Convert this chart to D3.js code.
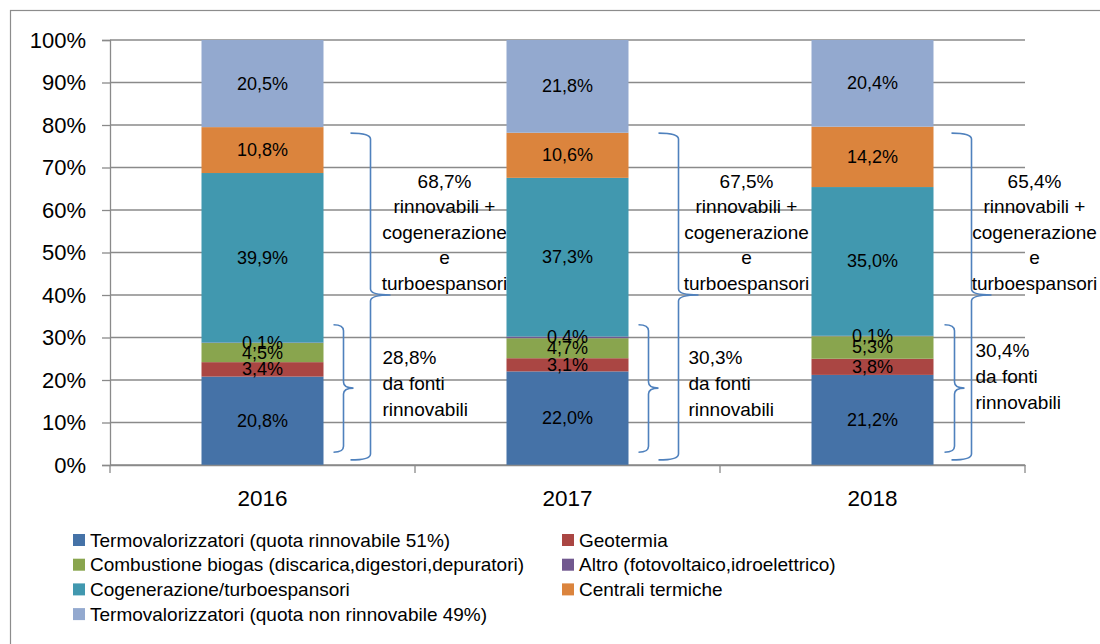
<!DOCTYPE html>
<html>
<head>
<meta charset="utf-8">
<script src="https://cdn.jsdelivr.net/npm/d3@7"></script>
<style>
  body { margin: 0; background: #fff; }
  svg { font-family: "Liberation Sans", Arial, sans-serif; }
</style>
</head>
<body>
<div id="wrapper"></div>
<script>
// data
const years = ["2016", "2017", "2018"]
const seriesNames = [
  "Termovalorizzatori (quota rinnovabile 51%)",
  "Geotermia",
  "Combustione biogas (discarica,digestori,depuratori)",
  "Altro (fotovoltaico,idroelettrico)",
  "Cogenerazione/turboespansori",
  "Centrali termiche",
  "Termovalorizzatori (quota non rinnovabile 49%)",
]
const seriesColors = ["#4572a7", "#aa4643", "#89a54e", "#71588f", "#4198af", "#db843d", "#93a9cf"]
const termoRinn = [20.8, 22.0, 21.2]
const geotermia = [3.4, 3.1, 3.8]
const biogas = [4.5, 4.7, 5.3]
const altro = [0.1, 0.4, 0.1]
const cogenerazione = [39.9, 37.3, 35.0]
const centrali = [10.8, 10.6, 14.2]
const termoNonRinn = [20.5, 21.8, 20.4]
const yTicks = [0, 10, 20, 30, 40, 50, 60, 70, 80, 90, 100]

// brace annotations
const totalRinnCog = ["68,7%", "67,5%", "65,4%"]
const totalRinn = ["28,8%", "30,3%", "30,4%"]
const bigLines = ["rinnovabili +", "cogenerazione", "e", "turboespansori"]
const smallLines = ["da fonti", "rinnovabili"]

async function drawChart() {
  const dms = {
    width: 1100,
    height: 644,
    margin: { top: 40, right: 75, bottom: 179, left: 110 },
  }
  dms.boundedWidth = dms.width - dms.margin.left - dms.margin.right
  dms.boundedHeight = dms.height - dms.margin.top - dms.margin.bottom

  const columns = [termoRinn, geotermia, biogas, altro, cogenerazione, centrali, termoNonRinn]
  const table = years.map((y, i) => {
    const row = { year: y }
    seriesNames.forEach((s, j) => row[s] = columns[j][i])
    return row
  })

  const stacked = d3.stack()
    .keys(seriesNames)
    .offset(d3.stackOffsetExpand)(table)

  const svg = d3.select("#wrapper")
    .append("svg")
    .attr("width", dms.width)
    .attr("height", dms.height)

  // outer frame
  svg.append("rect")
    .attr("x", 10.5).attr("y", 10.5)
    .attr("width", 1200).attr("height", 800)
    .attr("fill", "none")
    .attr("stroke", "#8c8c8c")
    .attr("stroke-width", 1.2)

  const bounds = svg.append("g")
    .attr("transform", `translate(${dms.margin.left},${dms.margin.top})`)

  const xScale = d3.scaleBand()
    .domain(years)
    .range([0, dms.boundedWidth])

  const yScale = d3.scaleLinear()
    .domain([0, 1])
    .range([dms.boundedHeight, 0])

  const barWidth = xScale.bandwidth() / 2.5
  const barLeft = d => xScale(d) + (xScale.bandwidth() - barWidth) / 2

  // gridlines
  bounds.append("g")
    .selectAll("line")
    .data(yTicks)
    .join("line")
    .attr("x1", 0)
    .attr("x2", dms.boundedWidth)
    .attr("y1", d => yScale(d / 100))
    .attr("y2", d => yScale(d / 100))
    .attr("stroke", "#8a8a8a")
    .attr("stroke-width", 1.3)

  // y axis
  const yAxisGenerator = d3.axisLeft(yScale)
    .tickValues(yTicks.map(d => d / 100))
    .tickFormat(d => Math.round(d * 100) + "%")
    .tickSize(8)
    .tickPadding(16)

  const yAxis = bounds.append("g").call(yAxisGenerator)
  yAxis.select(".domain").attr("stroke", "#8a8a8a").attr("stroke-width", 1.3)
  yAxis.selectAll(".tick line").attr("stroke", "#8a8a8a").attr("stroke-width", 1.3)
  yAxis.selectAll("text")
    .attr("fill", "#000")
    .style("font-size", "22px")

  // bars
  const layers = bounds.append("g")
    .selectAll("g")
    .data(stacked)
    .join("g")
    .attr("fill", (d, i) => seriesColors[i])

  layers.selectAll("rect")
    .data(d => d)
    .join("rect")
    .attr("x", d => barLeft(d.data.year))
    .attr("width", barWidth)
    .attr("y", d => yScale(d[1]))
    .attr("height", d => yScale(d[0]) - yScale(d[1]))

  // x axis
  const xAxisGenerator = d3.axisBottom(xScale).tickSize(0).tickPadding(25)
  const xAxis = bounds.append("g")
    .attr("transform", `translate(0,${dms.boundedHeight})`)
    .call(xAxisGenerator)
  xAxis.select(".domain").attr("stroke", "#8a8a8a").attr("stroke-width", 1.3)
  xAxis.selectAll("text")
    .attr("fill", "#000")
    .style("font-size", "22.5px")

  xAxis.append("g")
    .selectAll("line")
    .data(d3.range(years.length + 1))
    .join("line")
    .attr("x1", i => i * xScale.step())
    .attr("x2", i => i * xScale.step())
    .attr("y1", 0)
    .attr("y2", 8)
    .attr("stroke", "#8a8a8a")
    .attr("stroke-width", 1.3)

  // segment labels
  const labels = bounds.append("g")
  stacked.forEach((layer, j) => {
    labels.selectAll(null)
      .data(layer)
      .join("text")
      .attr("x", d => barLeft(d.data.year) + barWidth / 2)
      .attr("y", d => yScale((d[0] + d[1]) / 2))
      .attr("text-anchor", "middle")
      .attr("dominant-baseline", "central")
      .style("font-size", "18px")
      .attr("fill", "#000")
      .text(d => d.data[seriesNames[j]].toFixed(1).replace(".", ",") + "%")
  })

  // braces
  const braceColor = "#4f81bd"
  const bigOffset = [47, 50, 38]
  const smallOffset = [20, 20, 21]
  const bigTextOffset = [121, 118, 101]
  const smallTextOffset = [59, 60, 42]
  const smallTextTop = [25.4, 25.2, 27]

  const bracePath = (x, y1, yTip, y2, w, tw) => {
    const r = 6
    return `M${x - w},${y1} Q${x},${y1} ${x},${y1 + r} L${x},${yTip - r}`
      + ` Q${x},${yTip} ${x + tw},${yTip} Q${x},${yTip} ${x},${yTip + r}`
      + ` L${x},${y2 - r} Q${x},${y2} ${x - w},${y2}`
  }

  const ann = bounds.append("g")
  years.forEach((yr, i) => {
    const right = barLeft(yr) + barWidth
    ann.append("path")
      .attr("d", bracePath(right + bigOffset[i], yScale(0.781), yScale(0.40), yScale(0.012), 20, 20))
      .attr("fill", "none")
      .attr("stroke", braceColor)
      .attr("stroke-width", 1.6)
    ann.append("path")
      .attr("d", bracePath(right + smallOffset[i], yScale(0.33), yScale(0.181), yScale(0.03), 10, 10))
      .attr("fill", "none")
      .attr("stroke", braceColor)
      .attr("stroke-width", 1.6)

    const big = ann.append("text")
      .attr("text-anchor", "middle")
      .style("font-size", "19px")
      .attr("fill", "#000")
    ;[totalRinnCog[i], ...bigLines].forEach((t, k) => {
      big.append("tspan")
        .attr("x", right + bigTextOffset[i])
        .attr("y", yScale(0.668) + k * 25.5)
        .attr("dominant-baseline", "central")
        .text(t)
    })

    const small = ann.append("text")
      .attr("text-anchor", "start")
      .style("font-size", "19px")
      .attr("fill", "#000")
    ;[totalRinn[i], ...smallLines].forEach((t, k) => {
      small.append("tspan")
        .attr("x", right + smallTextOffset[i])
        .attr("y", yScale(smallTextTop[i] / 100) + k * 26)
        .attr("dominant-baseline", "central")
        .text(t)
    })
  })

  // legend
  const legendOrder = [0, 1, 2, 3, 4, 5, 6]
  const legend = svg.append("g")
  legendOrder.forEach((s, k) => {
    const col = k % 2
    const row = Math.floor(k / 2)
    const lx = col === 0 ? 73 : 562
    const ly = 540 + row * 24.7
    legend.append("rect")
      .attr("x", lx).attr("y", ly - 6)
      .attr("width", 12).attr("height", 12)
      .attr("fill", seriesColors[s])
    legend.append("text")
      .attr("x", lx + 17)
      .attr("y", ly)
      .attr("dominant-baseline", "central")
      .style("font-size", "19px")
      .attr("fill", "#000")
      .text(seriesNames[s])
  })
}

drawChart()
</script>
</body>
</html>
